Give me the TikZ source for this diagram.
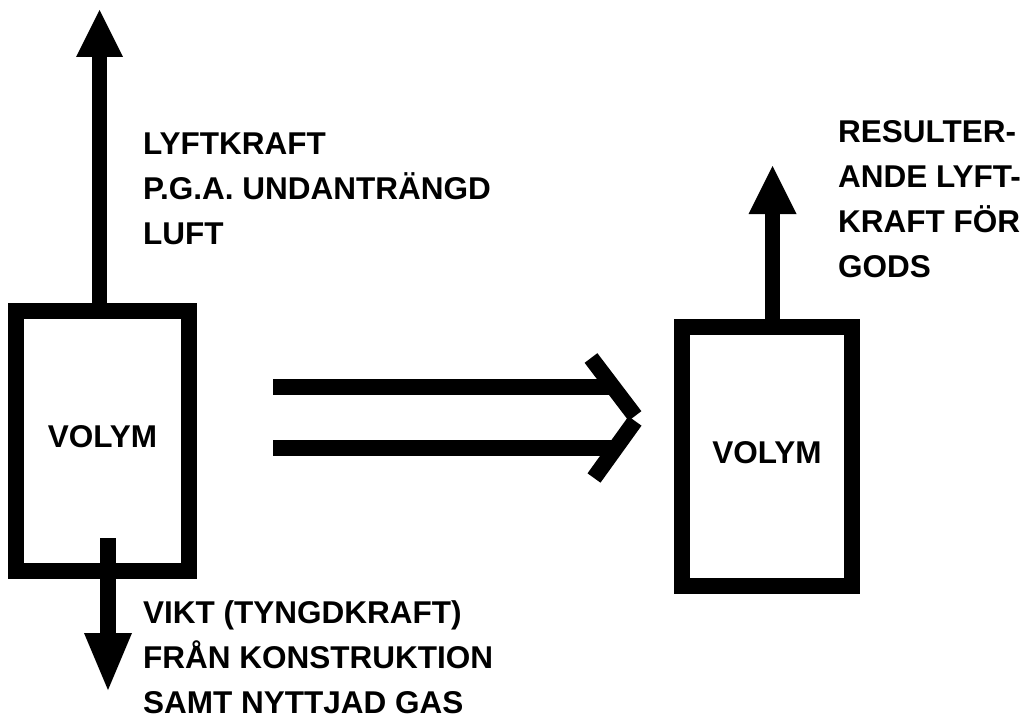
\documentclass[tikz,border=0pt]{standalone}
\usepackage{fontspec}
\setmainfont{Liberation Sans}
\usetikzlibrary{arrows.meta}

\begin{document}
\begin{tikzpicture}[x=1pt,y=-1pt,
  lbl/.style={font=\fontsize{31.5}{45}\selectfont\bfseries, align=left,
              inner sep=0pt, anchor=north west},
  vessel/.style={draw, line width=16pt, inner sep=0pt, text depth=9pt,
                 font=\fontsize{31.5}{45}\selectfont\bfseries},
  force/.style={line width=15.5pt},
  thick bar/.style={line width=16pt, line cap=butt}
]
\path[use as bounding box] (0,0) rectangle (1031,717);

% the two volumes
\node[vessel, minimum width=173pt, minimum height=260pt] (lbox) at (102.5,441) {VOLYM};
\node[vessel, minimum width=170pt, minimum height=259pt] (rbox) at (767,456.5) {VOLYM};

% free ends of the force arrows
\coordinate (liftTip) at (99.5,10);
\coordinate (wStart) at (108,538);
\coordinate (wTip) at (108,690);
\coordinate (resTip) at (772.5,166);

% lift from displaced air
\draw[force, -{Triangle[width=47pt,length=47pt,line width=0pt]}]
  (lbox.north -| liftTip) -- (liftTip);
% weight of structure and used gas
\draw[force, -{Triangle[width=48pt,length=57pt,line width=0pt]}]
  (wStart) -- (wTip);
% resulting lift for cargo
\draw[force, -{Triangle[width=48pt,length=48pt,line width=0pt]}]
  (rbox.north -| resTip) -- (resTip);

% implication arrow between the two states
\coordinate (barA1) at (273,387);
\coordinate (barA2) at (612,387);
\coordinate (barB1) at (273,448);
\coordinate (barB2) at (613,448);
\coordinate (chevTop) at (591,358);
\coordinate (chevApexA) at (635,416);
\coordinate (chevApexB) at (635,421);
\coordinate (chevBot) at (594,478);
\draw[thick bar] (barA1) -- (barA2);
\draw[thick bar] (barB1) -- (barB2);
\draw[thick bar] (chevTop) -- (chevApexA);
\draw[thick bar] (chevApexB) -- (chevBot);

% labels
\node[lbl] (liftTxt) at (143,132.4) {LYFTKRAFT\\P.G.A. UNDANTRÄNGD\\LUFT};
\node[lbl] (weightTxt) at (143,600.4) {VIKT (TYNGDKRAFT)\\FRÅN KONSTRUKTION\\SAMT NYTTJAD GAS};
\node[lbl] (resTxt) at (838,120.4) {RESULTER-\\ANDE LYFT-\\KRAFT FÖR\\GODS};
\end{tikzpicture}
\end{document}
